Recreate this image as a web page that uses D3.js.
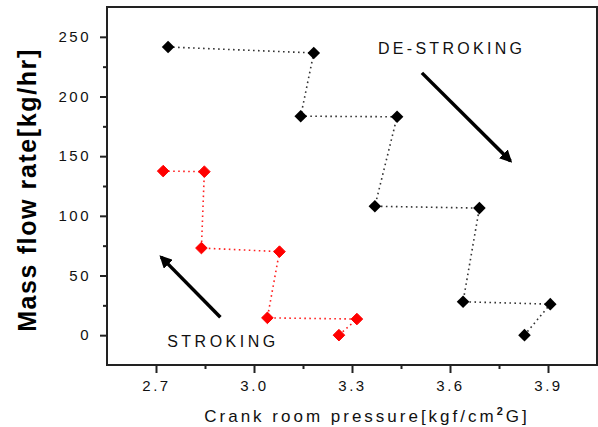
<!DOCTYPE html>
<html lang="en">
<head>
<meta charset="utf-8">
<title>Mass flow rate vs crank room pressure</title>
<script src="https://cdn.jsdelivr.net/npm/d3@7"></script>
<style>
  body { margin: 0; background: #fff; }
  svg { display: block; font-family: "Liberation Sans", Arial, sans-serif; }
  .tick text { font-size: 15px; letter-spacing: 2.5px; fill: #111; }
  .domain { display: none; }
  .tick line { stroke: #222; stroke-width: 2; }
</style>
</head>
<body>
<script>
  // de-stroking (black) series, in order
  var deX = [2.737, 3.183, 3.143, 3.438, 3.370, 3.690, 3.640, 3.907, 3.828];
  var deY = [241.5, 236.5, 183.5, 183, 108, 106.5, 28, 26, 0];
  // stroking (red) series, in order
  var stX = [2.722, 2.848, 2.839, 3.078, 3.041, 3.315, 3.260];
  var stY = [137.5, 137, 73, 70, 14.5, 13.5, 0];

  var xTicks = [2.7, 3.0, 3.3, 3.6, 3.9];
  var xMinor = [2.85, 3.15, 3.45, 3.75];
  var yTicks = [0, 50, 100, 150, 200, 250];
  var yMinor = [25, 75, 125, 175, 225];

  var w = 598, h = 427;
  var margin = {left: 107, right: 1, top: 7, bottom: 62};

  var svg = d3.select("body").append("svg")
              .attr("width", w)
              .attr("height", h);

  var x = d3.scaleLinear().domain([2.55, 4.05]).range([margin.left, w - margin.right]);
  var y = d3.scaleLinear().domain([-25, 275]).range([h - margin.bottom, margin.top]);

  // axes (ticks outward)
  svg.append("g")
     .attr("transform", "translate(0," + y(-25) + ")")
     .call(d3.axisBottom(x).tickValues(xTicks).tickSize(8).tickSizeOuter(0).tickPadding(7)
             .tickFormat(d3.format(".1f")));
  svg.append("g")
     .attr("transform", "translate(0," + y(-25) + ")")
     .call(d3.axisBottom(x).tickValues(xMinor).tickSize(4).tickSizeOuter(0).tickFormat(""));
  svg.append("g")
     .attr("transform", "translate(" + x(2.55) + ",0)")
     .call(d3.axisLeft(y).tickValues(yTicks).tickSize(7).tickSizeOuter(0).tickPadding(9));
  svg.append("g")
     .attr("transform", "translate(" + x(2.55) + ",0)")
     .call(d3.axisLeft(y).tickValues(yMinor).tickSize(4).tickSizeOuter(0).tickFormat(""));

  // frame
  svg.append("rect")
     .attr("x", x(2.55))
     .attr("y", y(275))
     .attr("width", x(4.05) - x(2.55))
     .attr("height", y(-25) - y(275))
     .attr("fill", "none")
     .attr("stroke", "#222")
     .attr("stroke-width", 2);

  // dotted connecting lines
  var line = d3.line()
               .x(function(d) { return x(d[0]); })
               .y(function(d) { return y(d[1]); });

  var dePts = deX.map(function(v, i) { return [v, deY[i]]; });
  var stPts = stX.map(function(v, i) { return [v, stY[i]]; });

  svg.append("path")
     .datum(dePts)
     .attr("d", line)
     .attr("fill", "none")
     .attr("stroke", "#333")
     .attr("stroke-width", 1.6)
     .attr("stroke-dasharray", "1.6,3.4");

  svg.append("path")
     .datum(stPts)
     .attr("d", line)
     .attr("fill", "none")
     .attr("stroke", "#ff2020")
     .attr("stroke-width", 1.6)
     .attr("stroke-dasharray", "1.6,3.4");

  // diamond markers
  function diamond(r) {
    return "M0," + (-r) + "L" + r + ",0L0," + r + "L" + (-r) + ",0Z";
  }

  svg.selectAll("path.de")
     .data(dePts)
     .enter()
     .append("path")
     .attr("class", "de")
     .attr("transform", function(d) { return "translate(" + x(d[0]) + "," + y(d[1]) + ")"; })
     .attr("d", diamond(6.3))
     .attr("fill", "#000");

  svg.selectAll("path.st")
     .data(stPts)
     .enter()
     .append("path")
     .attr("class", "st")
     .attr("transform", function(d) { return "translate(" + x(d[0]) + "," + y(d[1]) + ")"; })
     .attr("d", diamond(5.8))
     .attr("fill", "#ff0000")
     .attr("stroke", "#ff0000")
     .attr("stroke-width", 1)
     .attr("stroke-linejoin", "round");

  // arrows
  var defs = svg.append("defs");
  defs.append("marker")
      .attr("id", "head")
      .attr("viewBox", "0 0 10 10")
      .attr("refX", 8)
      .attr("refY", 5)
      .attr("markerWidth", 3.6)
      .attr("markerHeight", 3.6)
      .attr("orient", "auto")
      .append("path")
      .attr("d", "M0,0L10,5L0,10Z")
      .attr("fill", "#000");

  var arrows = [
    {x1: 3.514, y1: 219.8, x2: 3.785, y2: 146},
    {x1: 2.897, y1: 15, x2: 2.716, y2: 65.4}
  ];
  svg.selectAll("line.arrow")
     .data(arrows)
     .enter()
     .append("line")
     .attr("class", "arrow")
     .attr("x1", function(d) { return x(d.x1); })
     .attr("y1", function(d) { return y(d.y1); })
     .attr("x2", function(d) { return x(d.x2); })
     .attr("y2", function(d) { return y(d.y2); })
     .attr("stroke", "#000")
     .attr("stroke-width", 3.5)
     .attr("marker-end", "url(#head)");

  // annotations
  svg.append("text")
     .attr("x", x(3.605))
     .attr("y", y(236))
     .attr("text-anchor", "middle")
     .attr("font-size", 16)
     .attr("letter-spacing", 3.3)
     .attr("fill", "#111")
     .text("DE-STROKING");

  svg.append("text")
     .attr("x", x(2.905))
     .attr("y", y(-10))
     .attr("text-anchor", "middle")
     .attr("font-size", 16)
     .attr("letter-spacing", 3.5)
     .attr("fill", "#111")
     .text("STROKING");

  // axis titles
  var xt = svg.append("text")
     .attr("x", 367)
     .attr("y", 422)
     .attr("text-anchor", "middle")
     .attr("font-size", 17)
     .attr("letter-spacing", 3)
     .attr("fill", "#111");
  xt.append("tspan").text("Crank room pressure[kgf/cm");
  xt.append("tspan").attr("dy", -7).attr("font-size", 11).attr("font-weight", "bold").text("2");
  xt.append("tspan").attr("dy", 7).text("G]");

  svg.append("text")
     .attr("transform", "translate(36,190) rotate(-90)")
     .attr("text-anchor", "middle")
     .attr("font-size", 25)
     .attr("font-weight", "bold")
     .attr("letter-spacing", 1.6)
     .attr("fill", "#000")
     .text("Mass flow rate[kg/hr]");
</script>
</body>
</html>
